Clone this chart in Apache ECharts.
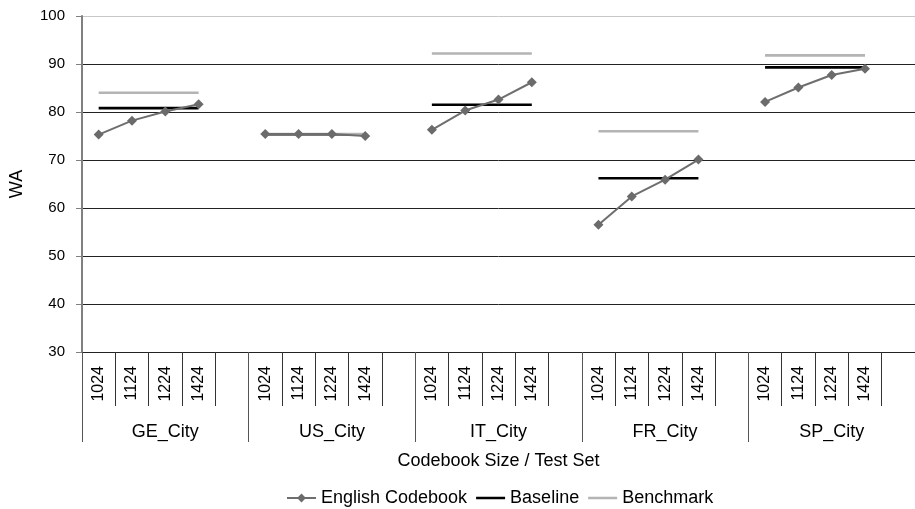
<!DOCTYPE html>
<html>
<head>
<meta charset="utf-8">
<script src="https://cdn.jsdelivr.net/npm/echarts@6/dist/echarts.min.js"></script>
<style>html,body{margin:0;padding:0;background:#fff}#c{width:915px;height:509px}</style>
</head>
<body>
<div id="c"></div>
<script>
var groups = ['GE_City', 'US_City', 'IT_City', 'FR_City', 'SP_City'];
var sizes = ['1024', '1124', '1224', '1424'];
var englishCodebook = [
  [75.3, 78.2, 80.1, 81.6],
  [75.4, 75.4, 75.4, 75.0],
  [76.3, 80.3, 82.6, 86.2],
  [56.5, 62.4, 65.9, 70.1],
  [82.1, 85.1, 87.7, 89.0]
];
var baseline = [80.8, 75.3, 81.5, 66.2, 89.3];
var benchmark = [84.0, 75.4, 92.2, 76.0, 91.8];
var yTicks = [30, 40, 50, 60, 70, 80, 90, 100];

var cats = [], eng = [], base = [], bench = [];
groups.forEach(function (g, gi) {
  sizes.forEach(function (s, si) {
    cats.push(s);
    eng.push(englishCodebook[gi][si]);
    base.push(baseline[gi]);
    bench.push(benchmark[gi]);
  });
  cats.push('');
  eng.push(null); base.push(null); bench.push(null);
});

var FONT = 'Liberation Sans, Arial, sans-serif';
var LINE_ICON = 'path://M0,0 L30,0 L30,2.6 L0,2.6 Z';
var chart = echarts.init(document.getElementById('c'), null, {renderer: 'canvas'});
chart.setOption({
  animation: false,
  textStyle: {fontFamily: FONT},
  grid: {left: 80, top: 16, right: -2.5, bottom: 157, containLabel: false},
  legend: {
    top: 484, left: 281,
    itemWidth: 29, itemHeight: 11, itemGap: 9,
    textStyle: {fontFamily: FONT, fontSize: 18, color: '#000'},
    data: [
      {name: 'English Codebook'},
      {name: 'Baseline', icon: LINE_ICON},
      {name: 'Benchmark', icon: LINE_ICON}
    ]
  },
  xAxis: [{
    type: 'category', data: cats, boundaryGap: true,
    axisLine: {show: true, lineStyle: {color: '#222', width: 1}},
    axisTick: {show: true, interval: 0, length: 54, lineStyle: {color: '#333'}},
    axisLabel: {interval: 0, rotate: 90, margin: 14, fontSize: 16, color: '#000', fontFamily: FONT},
    splitLine: {show: false}
  }, {
    type: 'category', data: groups, boundaryGap: true, position: 'bottom',
    axisLine: {show: false},
    axisTick: {show: true, interval: 0, length: 90, lineStyle: {color: '#555'}},
    axisLabel: {interval: 0, margin: 71, fontSize: 18, color: '#000', fontFamily: FONT},
    name: 'Codebook Size / Test Set', nameLocation: 'middle', nameGap: 100,
    nameTextStyle: {fontSize: 18, color: '#000', fontFamily: FONT}
  }],
  yAxis: {
    type: 'value', min: 30, max: 100, interval: 10,
    name: 'WA', nameLocation: 'middle', nameGap: 56, nameRotate: 90,
    nameTextStyle: {fontSize: 18, color: '#000', fontFamily: FONT},
    axisLine: {show: true, lineStyle: {color: '#808080', width: 2}},
    axisTick: {show: true, length: 6, lineStyle: {color: '#808080'}},
    axisLabel: {fontSize: 15, color: '#000', margin: 17, fontFamily: FONT,
      formatter: function (v) { return yTicks.indexOf(v) >= 0 ? String(v) : ''; }},
    splitLine: {show: true, lineStyle: {color: ['#222', '#222', '#222', '#222', '#222', '#222', '#222', '#c8c8c8'], width: 1}}
  },
  series: [{
    name: 'English Codebook', type: 'line', data: eng, xAxisIndex: 0,
    connectNulls: false, symbol: 'diamond', symbolSize: 10, z: 5,
    lineStyle: {color: '#6e6e6e', width: 2},
    itemStyle: {color: '#6b6b6b'}
  }, {
    name: 'Baseline', type: 'line', data: base, xAxisIndex: 0,
    connectNulls: false, symbol: 'none', showSymbol: false, z: 3,
    lineStyle: {color: '#000', width: 2.6},
    itemStyle: {color: '#000'}
  }, {
    name: 'Benchmark', type: 'line', data: bench, xAxisIndex: 0,
    connectNulls: false, symbol: 'none', showSymbol: false, z: 4,
    lineStyle: {color: '#b4b4b4', width: 2.6},
    itemStyle: {color: '#b4b4b4'}
  }]
});
</script>
</body>
</html>
